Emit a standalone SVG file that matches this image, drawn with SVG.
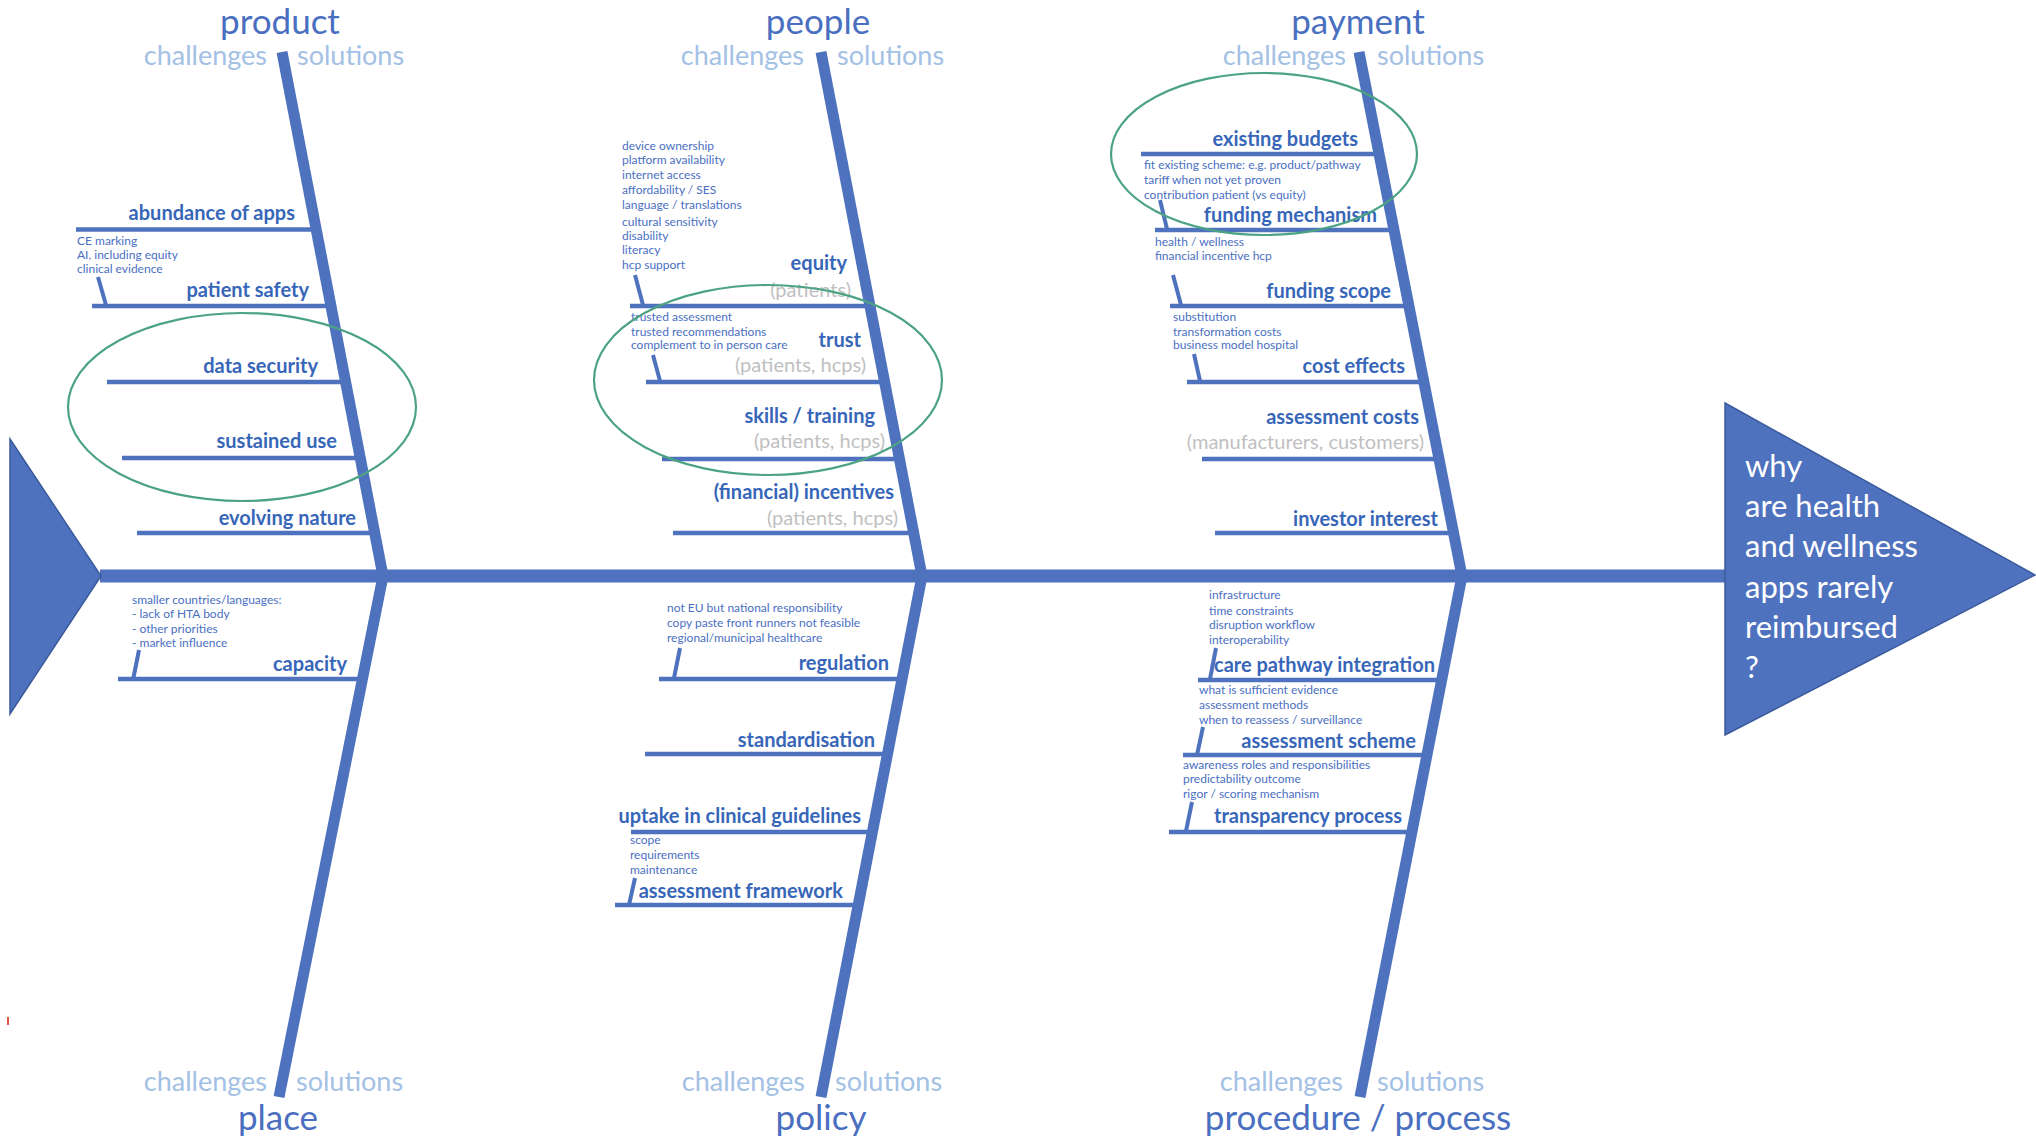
<svg xmlns="http://www.w3.org/2000/svg" width="2036" height="1139" viewBox="0 0 2036 1139">
<style>
text{font-family:Lato,"Open Sans","Liberation Sans",sans-serif}
.title{font-size:35px;fill:#4A6FC0}
.cs{font-size:27px;fill:#A3C1E5}
.lbl{font-size:20px;font-weight:bold;fill:#3766B9}
.grey{font-size:20px;fill:#BFBFBF}
.det{font-size:12px;fill:#4A6FC2}
.eff{font-size:31px;fill:#FFFFFF}
.r{text-anchor:end}
.m{text-anchor:middle}
.bone{stroke:#4F72BF;stroke-width:11;fill:none}
.spine{stroke:#4F72BF;stroke-width:13;fill:none}
.rib{stroke:#4F72BF;stroke-width:4.5;fill:none}
.tick{stroke:#4F72BF;stroke-width:4;fill:none}
.oval{stroke:#4CA383;stroke-width:2.2;fill:none}
.head{fill:#4F72BF;stroke:#3A5A9C;stroke-width:1.5}
</style>
<rect width="2036" height="1139" fill="#FFFFFF"/>

<g id="connectors">
  <line class="spine" x1="100" y1="576" x2="1726" y2="576"/>
  <!-- ribs product -->
  <line class="rib" x1="76" y1="229.5" x2="316" y2="229.5"/>
  <line class="rib" x1="92" y1="306" x2="331" y2="306"/>
  <line class="rib" x1="107" y1="382" x2="345" y2="382"/>
  <line class="rib" x1="122" y1="458" x2="360" y2="458"/>
  <line class="rib" x1="137" y1="533" x2="374" y2="533"/>
  <!-- place -->
  <line class="rib" x1="118" y1="679" x2="362" y2="679"/>
  <!-- people -->
  <line class="rib" x1="630" y1="306" x2="870" y2="306"/>
  <line class="rib" x1="646" y1="382" x2="884" y2="382"/>
  <line class="rib" x1="662" y1="459" x2="899" y2="459"/>
  <line class="rib" x1="673" y1="533" x2="913" y2="533"/>
  <!-- policy -->
  <line class="rib" x1="659" y1="679" x2="902" y2="679"/>
  <line class="rib" x1="645" y1="754" x2="887" y2="754"/>
  <line class="rib" x1="631" y1="832" x2="872" y2="832"/>
  <line class="rib" x1="615" y1="905" x2="858" y2="905"/>
  <!-- payment -->
  <line class="rib" x1="1141" y1="154" x2="1379" y2="154"/>
  <line class="rib" x1="1155" y1="230" x2="1394" y2="230"/>
  <line class="rib" x1="1170" y1="306" x2="1409" y2="306"/>
  <line class="rib" x1="1187" y1="382" x2="1424" y2="382"/>
  <line class="rib" x1="1202" y1="459" x2="1439" y2="459"/>
  <line class="rib" x1="1215" y1="533" x2="1453" y2="533"/>
  <!-- procedure -->
  <line class="rib" x1="1198" y1="680" x2="1441" y2="680"/>
  <line class="rib" x1="1183" y1="755" x2="1427" y2="755"/>
  <line class="rib" x1="1169" y1="832" x2="1412" y2="832"/>
  <!-- ticks -->
  <line class="tick" x1="98" y1="277" x2="106" y2="305"/>
  <line class="tick" x1="139" y1="650" x2="133" y2="680"/>
  <line class="tick" x1="635" y1="275" x2="643" y2="305"/>
  <line class="tick" x1="653" y1="355" x2="660" y2="381"/>
  <line class="tick" x1="680" y1="648" x2="674" y2="678"/>
  <line class="tick" x1="635" y1="878" x2="629" y2="905"/>
  <line class="tick" x1="1160" y1="200" x2="1167" y2="229"/>
  <line class="tick" x1="1173" y1="275" x2="1181" y2="305"/>
  <line class="tick" x1="1194" y1="354" x2="1200" y2="381"/>
  <line class="tick" x1="1216" y1="648" x2="1210" y2="679"/>
  <line class="tick" x1="1203" y1="727" x2="1197" y2="755"/>
  <line class="tick" x1="1192" y1="802" x2="1186" y2="831"/>
  <!-- bones -->
  <line class="bone" x1="282" y1="52" x2="383" y2="576"/>
  <line class="bone" x1="383" y1="576" x2="279" y2="1097"/>
  <line class="bone" x1="821" y1="52" x2="922" y2="576"/>
  <line class="bone" x1="922" y1="576" x2="821" y2="1097"/>
  <line class="bone" x1="1359" y1="52" x2="1462" y2="576"/>
  <line class="bone" x1="1462" y1="576" x2="1360" y2="1097"/>
</g>

<g id="tail">
  <polygon class="head" points="10,439 101,576 10,714"/>
</g>

<g id="effect">
  <polygon class="head" points="1725,403 2035,575 1725,735"/>
  <text class="eff" x="1745" y="477">why</text>
  <text class="eff" x="1745" y="517">are health</text>
  <text class="eff" x="1745" y="557">and wellness</text>
  <text class="eff" x="1745" y="598">apps rarely</text>
  <text class="eff" x="1745" y="638">reimbursed</text>
  <text class="eff" x="1745" y="678">?</text>
</g>

<g id="cat-product">
  <text class="title m" x="280" y="34">product</text>
  <text class="cs r" x="267" y="65">challenges</text>
  <text class="cs" x="297" y="65">solutions</text>
</g>
<g id="cat-people">
  <text class="title m" x="818" y="34">people</text>
  <text class="cs r" x="804" y="65">challenges</text>
  <text class="cs" x="837" y="65">solutions</text>
</g>
<g id="cat-payment">
  <text class="title m" x="1358" y="34">payment</text>
  <text class="cs r" x="1346" y="65">challenges</text>
  <text class="cs" x="1377" y="65">solutions</text>
</g>
<g id="cat-place">
  <text class="cs r" x="267" y="1091">challenges</text>
  <text class="cs" x="296" y="1091">solutions</text>
  <text class="title m" x="278" y="1130">place</text>
</g>
<g id="cat-policy">
  <text class="cs r" x="805" y="1091">challenges</text>
  <text class="cs" x="835" y="1091">solutions</text>
  <text class="title m" x="821" y="1130">policy</text>
</g>
<g id="cat-procedure">
  <text class="cs r" x="1343" y="1091">challenges</text>
  <text class="cs" x="1377" y="1091">solutions</text>
  <text class="title m" x="1358" y="1130">procedure / process</text>
</g>

<!-- product causes -->
<g id="abundance-of-apps">
  <text class="lbl r" x="295" y="220">abundance of apps</text>
  <text class="det" x="77" y="245">CE marking</text>
  <text class="det" x="77" y="259">AI, including equity</text>
  <text class="det" x="77" y="273">clinical evidence</text>
</g>
<g id="patient-safety"><text class="lbl r" x="309" y="297">patient safety</text></g>
<g id="data-security"><text class="lbl r" x="318" y="373">data security</text></g>
<g id="sustained-use"><text class="lbl r" x="337" y="448">sustained use</text></g>
<g id="evolving-nature"><text class="lbl r" x="356" y="525">evolving nature</text></g>
<g id="oval-product"><ellipse class="oval" cx="242" cy="407" rx="174" ry="94"/></g>

<!-- place -->
<g id="capacity">
  <text class="det" x="132" y="604">smaller countries/languages:</text>
  <text class="det" x="132" y="618">- lack of HTA body</text>
  <text class="det" x="132" y="633">- other priorities</text>
  <text class="det" x="132" y="647">- market influence</text>
  <text class="lbl r" x="347" y="671">capacity</text>
</g>

<!-- people -->
<g id="equity">
  <text class="det" x="622" y="150">device ownership</text>
  <text class="det" x="622" y="164">platform availability</text>
  <text class="det" x="622" y="179">internet access</text>
  <text class="det" x="622" y="194">affordability / SES</text>
  <text class="det" x="622" y="209">language / translations</text>
  <text class="det" x="622" y="226">cultural sensitivity</text>
  <text class="det" x="622" y="240">disability</text>
  <text class="det" x="622" y="254">literacy</text>
  <text class="det" x="622" y="269">hcp support</text>
  <text class="lbl r" x="847" y="270">equity</text>
  <text class="grey r" x="851" y="297">(patients)</text>
</g>
<g id="trust">
  <text class="det" x="631" y="321">trusted assessment</text>
  <text class="det" x="631" y="336">trusted recommendations</text>
  <text class="det" x="631" y="349">complement to in person care</text>
  <text class="lbl r" x="861" y="347">trust</text>
  <text class="grey r" x="866" y="372">(patients, hcps)</text>
</g>
<g id="skills-training">
  <text class="lbl r" x="875" y="423">skills / training</text>
  <text class="grey r" x="885" y="448">(patients, hcps)</text>
</g>
<g id="financial-incentives">
  <text class="lbl r" x="894" y="499">(financial) incentives</text>
  <text class="grey r" x="898" y="525">(patients, hcps)</text>
</g>
<g id="oval-people"><ellipse class="oval" cx="768" cy="380" rx="174" ry="95"/></g>

<!-- policy -->
<g id="regulation">
  <text class="det" x="667" y="612">not EU but national responsibility</text>
  <text class="det" x="667" y="627">copy paste front runners not feasible</text>
  <text class="det" x="667" y="642">regional/municipal healthcare</text>
  <text class="lbl r" x="889" y="670">regulation</text>
</g>
<g id="standardisation"><text class="lbl r" x="875" y="747">standardisation</text></g>
<g id="uptake-in-clinical-guidelines"><text class="lbl r" x="861" y="823">uptake in clinical guidelines</text></g>
<g id="assessment-framework">
  <text class="det" x="630" y="844">scope</text>
  <text class="det" x="630" y="859">requirements</text>
  <text class="det" x="630" y="874">maintenance</text>
  <text class="lbl r" x="843" y="898">assessment framework</text>
</g>

<!-- payment -->
<g id="existing-budgets">
  <text class="lbl r" x="1358" y="146">existing budgets</text>
  <text class="det" x="1144" y="169">fit existing scheme: e.g. product/pathway</text>
  <text class="det" x="1144" y="184">tariff when not yet proven</text>
  <text class="det" x="1144" y="199">contribution patient (vs equity)</text>
</g>
<g id="funding-mechanism">
  <text class="lbl r" x="1377" y="222">funding mechanism</text>
  <text class="det" x="1155" y="246">health / wellness</text>
  <text class="det" x="1155" y="260">financial incentive hcp</text>
</g>
<g id="funding-scope">
  <text class="lbl r" x="1391" y="298">funding scope</text>
  <text class="det" x="1173" y="321">substitution</text>
  <text class="det" x="1173" y="336">transformation costs</text>
  <text class="det" x="1173" y="349">business model hospital</text>
</g>
<g id="cost-effects"><text class="lbl r" x="1405" y="373">cost effects</text></g>
<g id="assessment-costs">
  <text class="lbl r" x="1419" y="424">assessment costs</text>
  <text class="grey r" x="1424" y="449">(manufacturers, customers)</text>
</g>
<g id="investor-interest"><text class="lbl r" x="1438" y="526">investor interest</text></g>
<g id="oval-payment"><ellipse class="oval" cx="1264" cy="154" rx="153" ry="81"/></g>

<!-- procedure -->
<g id="care-pathway-integration">
  <text class="det" x="1209" y="599">infrastructure</text>
  <text class="det" x="1209" y="615">time constraints</text>
  <text class="det" x="1209" y="629">disruption workflow</text>
  <text class="det" x="1209" y="644">interoperability</text>
  <text class="lbl r" x="1435" y="672">care pathway integration</text>
</g>
<g id="assessment-scheme">
  <text class="det" x="1199" y="694">what is sufficient evidence</text>
  <text class="det" x="1199" y="709">assessment methods</text>
  <text class="det" x="1199" y="724">when to reassess / surveillance</text>
  <text class="lbl r" x="1416" y="748">assessment scheme</text>
</g>
<g id="transparency-process">
  <text class="det" x="1183" y="769">awareness roles and responsibilities</text>
  <text class="det" x="1183" y="783">predictability outcome</text>
  <text class="det" x="1183" y="798">rigor / scoring mechanism</text>
  <text class="lbl r" x="1402" y="823">transparency process</text>
</g>

<rect x="7" y="1017" width="2" height="8" fill="#E0533D"/>
</svg>
